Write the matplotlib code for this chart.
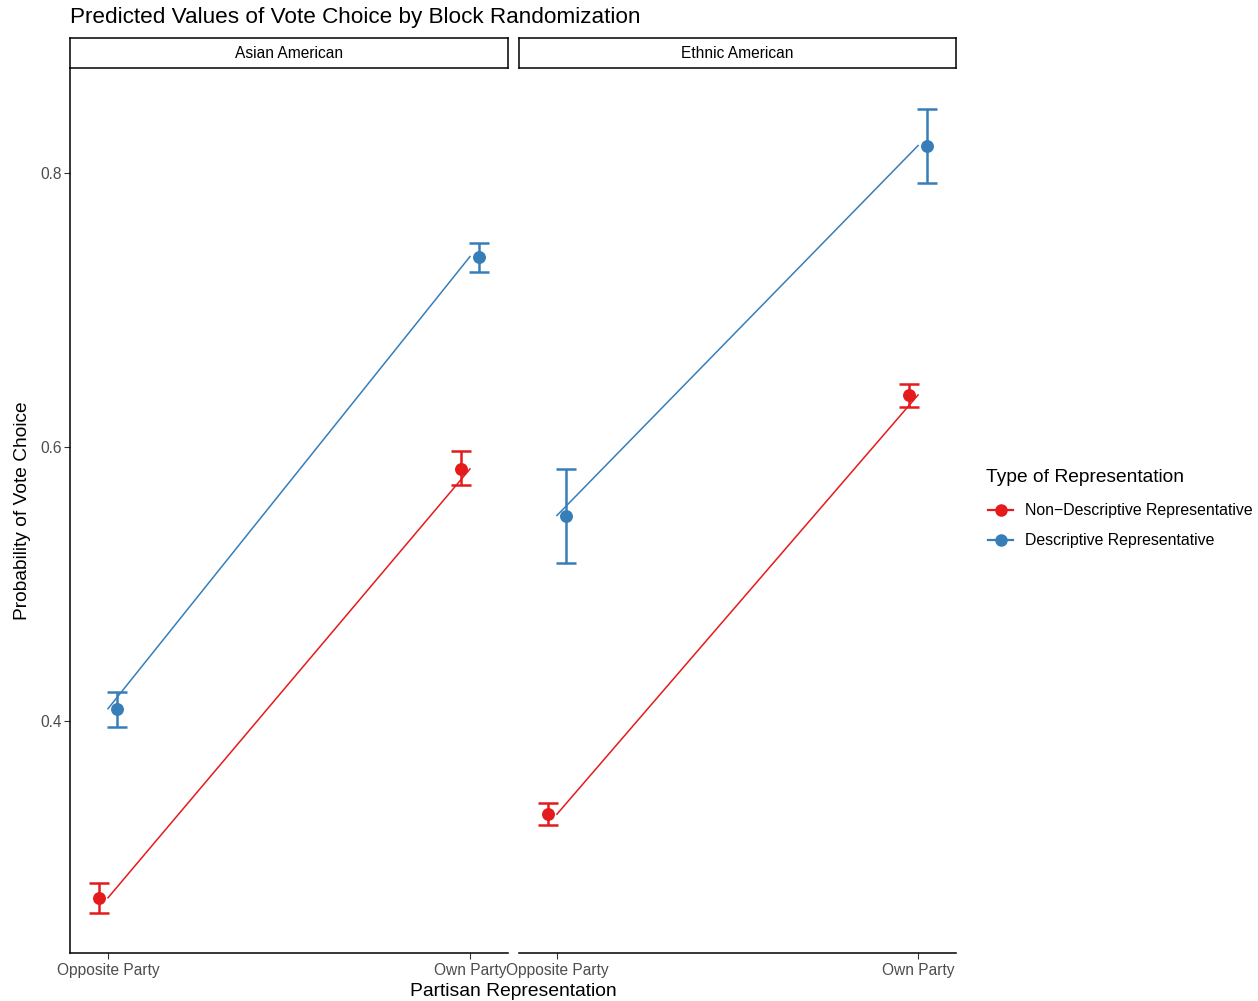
import numpy as np
import matplotlib
matplotlib.use('Agg')
import matplotlib.pyplot as plt
from matplotlib.lines import Line2D

plt.rcParams['font.family'] = ['Liberation Sans', 'DejaVu Sans']

panels = ['Asian American', 'Ethnic American']
x_labels = ['Opposite Party', 'Own Party']
groups = ['Non\u2212Descriptive Representative', 'Descriptive Representative']
colors = ['#E41A1C', '#377EB8']

# predicted values, lower and upper bounds, per panel and group
asian_nondesc = [0.271, 0.584]
asian_nondesc_lo = [0.260, 0.572]
asian_nondesc_hi = [0.282, 0.597]
asian_desc = [0.409, 0.739]
asian_desc_lo = [0.396, 0.728]
asian_desc_hi = [0.421, 0.749]

ethnic_nondesc = [0.332, 0.638]
ethnic_nondesc_lo = [0.324, 0.629]
ethnic_nondesc_hi = [0.340, 0.646]
ethnic_desc = [0.550, 0.820]
ethnic_desc_lo = [0.515, 0.793]
ethnic_desc_hi = [0.584, 0.847]

data = {
    'Asian American': [(asian_nondesc, asian_nondesc_lo, asian_nondesc_hi),
                       (asian_desc, asian_desc_lo, asian_desc_hi)],
    'Ethnic American': [(ethnic_nondesc, ethnic_nondesc_lo, ethnic_nondesc_hi),
                        (ethnic_desc, ethnic_desc_lo, ethnic_desc_hi)],
}

W, H = 1258, 1001
fig = plt.figure(figsize=(W / 100, H / 100), dpi=100)

def fx(px):
    return px / W

def fy(py):
    return 1 - py / H

panel_left = [70, 519]
panel_w = [438, 437]
top, bottom = 68, 953
ylim = (0.2307, 0.8766)
xlim = (0.895, 2.105)
dodge = 0.026
xs = np.array([1, 2])

for i, name in enumerate(panels):
    ax = fig.add_axes([fx(panel_left[i]), fy(bottom), fx(panel_w[i]), (bottom - top) / H])
    for j, (vals, lo, hi) in enumerate(data[name]):
        c = colors[j]
        vals = np.array(vals)
        lo = np.array(lo)
        hi = np.array(hi)
        ax.plot(xs, vals, color=c, lw=1.1, zorder=2)
        off = -dodge if j == 0 else dodge
        ax.errorbar(xs + off, vals, yerr=[vals - lo, hi - vals], fmt='o', color=c,
                    ms=8.3, elinewidth=1.8, capsize=7.2, capthick=1.8, zorder=3)
    ax.set_xlim(*xlim)
    ax.set_ylim(*ylim)
    ax.set_xticks(xs)
    ax.set_xticklabels(x_labels, fontsize=11.2, color='#4D4D4D')
    ax.set_yticks([0.4, 0.6, 0.8])
    ax.set_yticklabels(['0.4', '0.6', '0.8'], fontsize=11.2, color='#4D4D4D')
    ax.tick_params(length=4, width=0.8, color='#333333', pad=2)
    ax.tick_params(axis='x', pad=3.5)
    for s in ['top', 'right']:
        ax.spines[s].set_visible(False)
    ax.spines['bottom'].set_linewidth(1.1)
    ax.spines['left'].set_linewidth(1.1)
    if i == 1:
        ax.spines['left'].set_visible(False)
        ax.tick_params(axis='y', left=False, labelleft=False)

    # facet strip
    sax = fig.add_axes([fx(panel_left[i]), fy(68), fx(panel_w[i]), 30 / H])
    sax.set_xticks([])
    sax.set_yticks([])
    for s in sax.spines.values():
        s.set_linewidth(1.1)
    sax.text(0.5, 0.5, name, ha='center', va='center', fontsize=11.2, transform=sax.transAxes)

fig.text(fx(70), fy(17), 'Predicted Values of Vote Choice by Block Randomization',
         ha='left', va='center', fontsize=16.2)
fig.text(fx(513), fy(991), 'Partisan Representation', ha='center', va='center', fontsize=13.9)
fig.text(fx(23), fy(511), 'Probability of Vote Choice', ha='center', va='center',
         rotation=90, fontsize=13.8)

# legend drawn by hand to match the ggplot guide layout
fig.text(fx(986), fy(477), 'Type of Representation', ha='left', va='center', fontsize=13.8)
for k, (g, c) in enumerate(zip(groups, colors)):
    yk = fy(510 + 30 * k)
    fig.add_artist(Line2D([fx(988), fx(1013)], [yk, yk], color=c, lw=1.6,
                          transform=fig.transFigure))
    fig.add_artist(Line2D([fx(1000.5)], [yk], color=c, marker='o', ms=8,
                          transform=fig.transFigure))
    fig.text(fx(1025), yk, g, ha='left', va='center', fontsize=11.4)

fig.savefig('out.png', dpi=100)
